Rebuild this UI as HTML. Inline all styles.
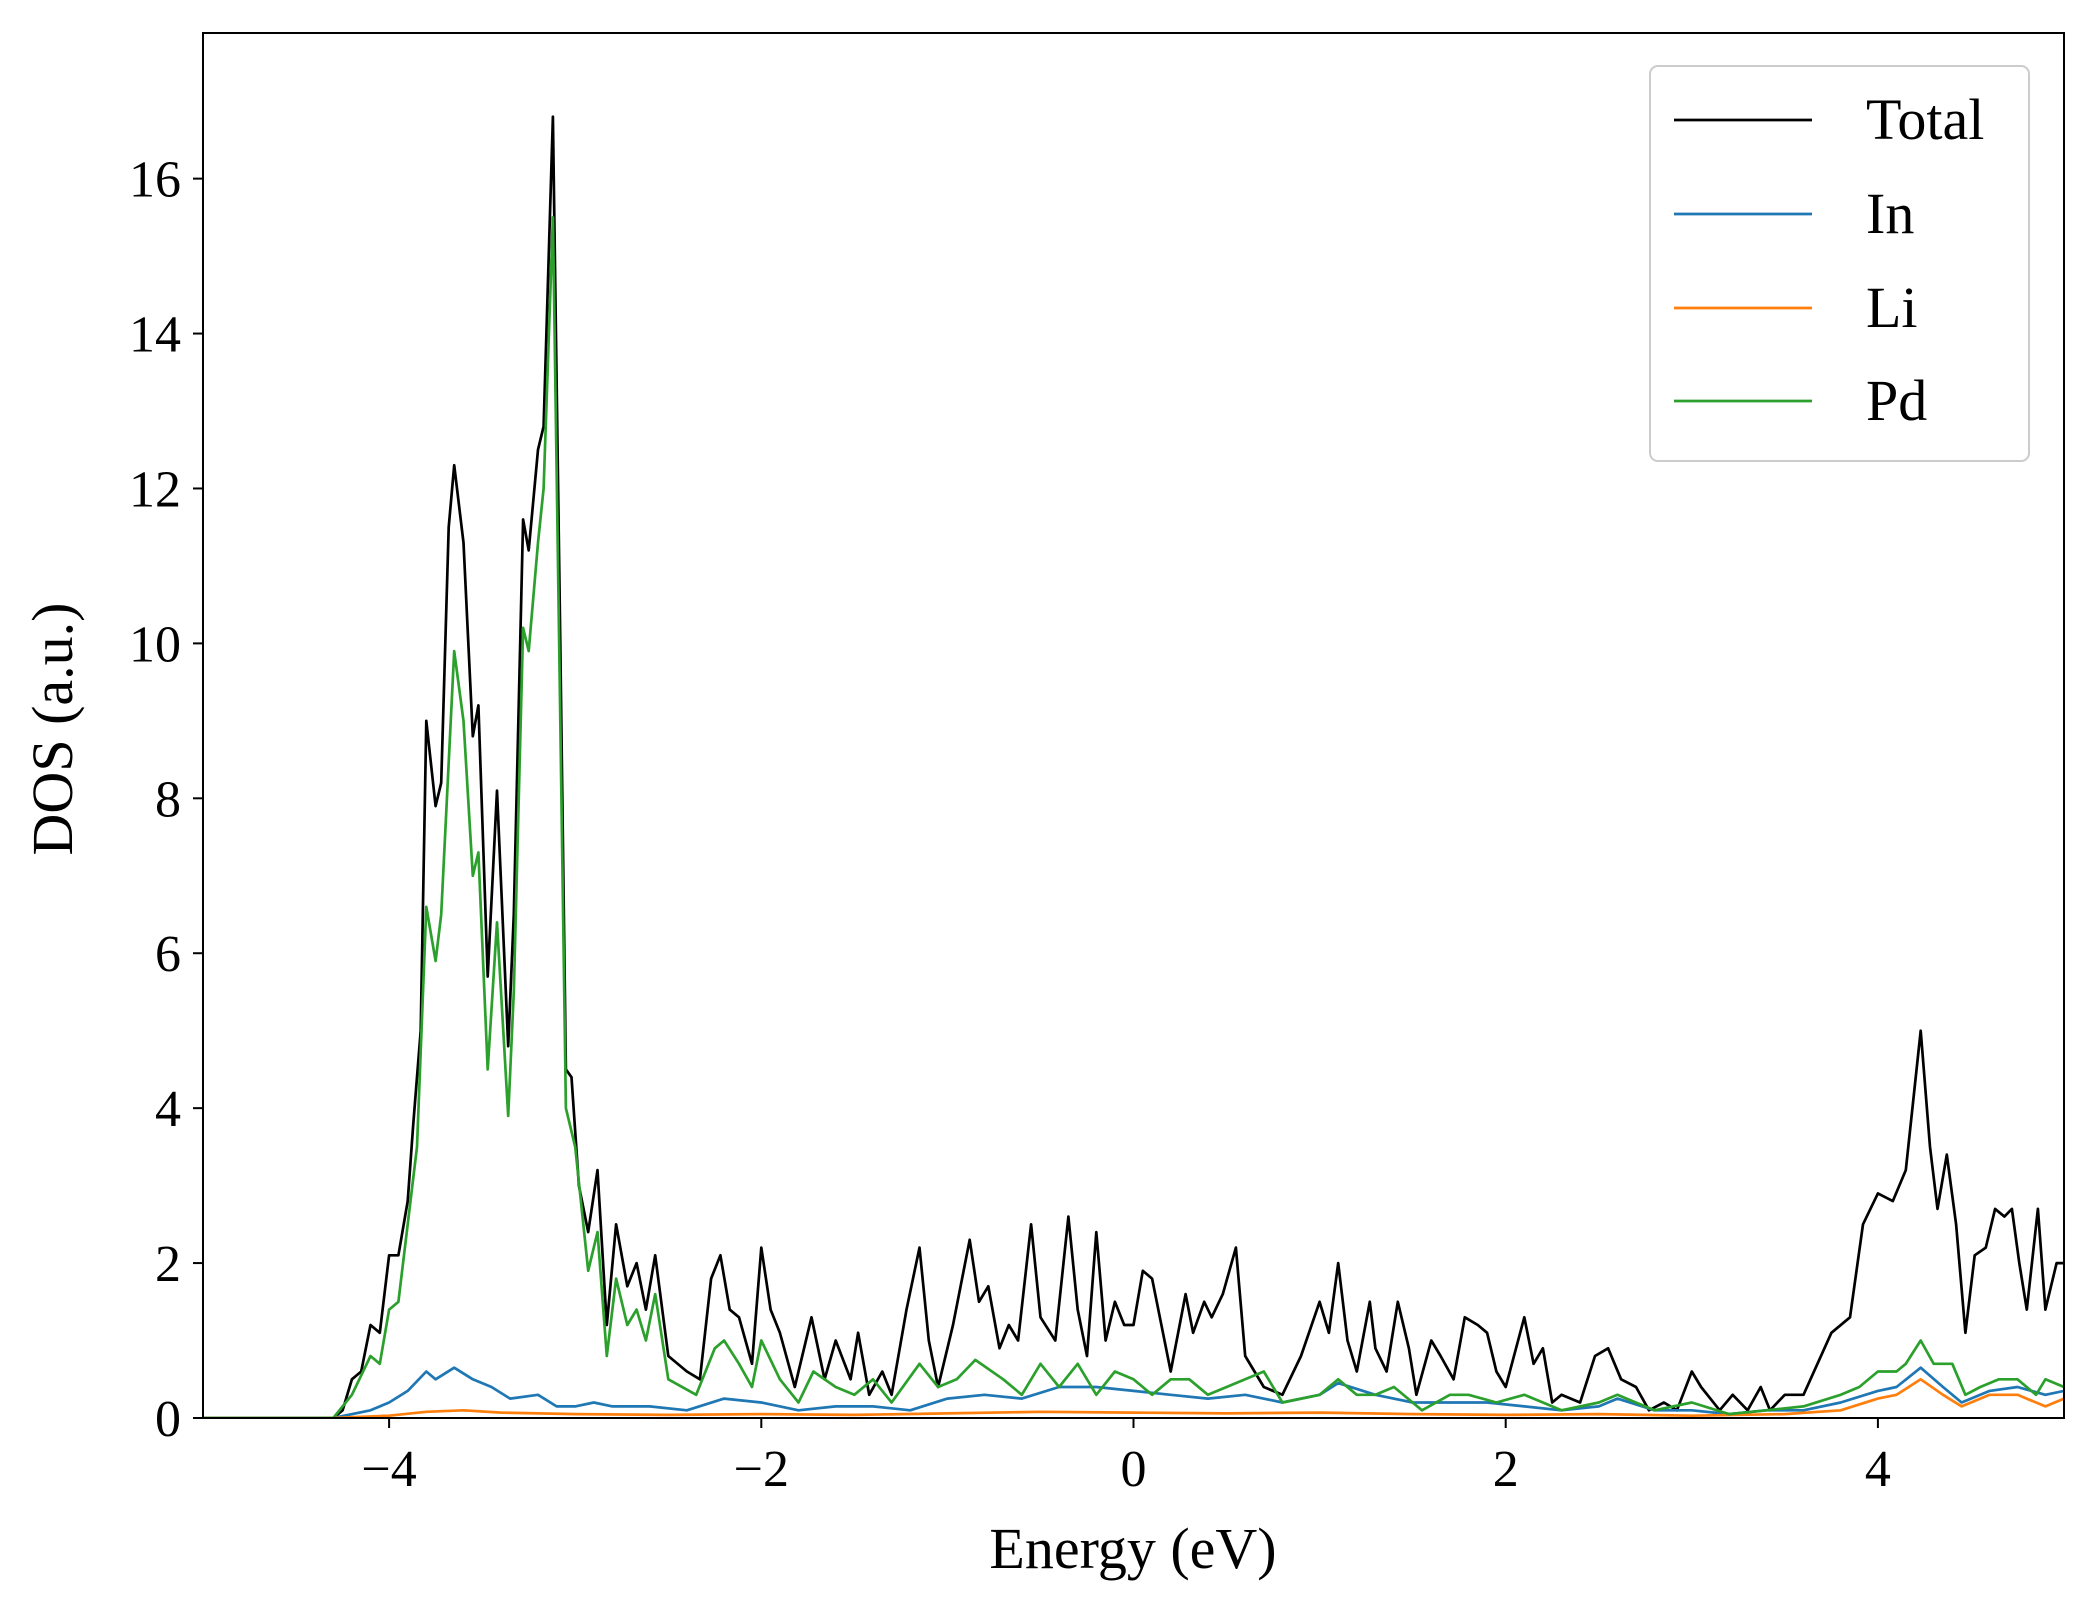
<!DOCTYPE html>
<html><head><meta charset="utf-8"><style>
html,body{margin:0;padding:0;background:#fff;}
svg text{font-family:"Liberation Serif","DejaVu Serif",serif;fill:#000;}
</style></head><body>
<svg id="chart" width="2097" height="1617" viewBox="0 0 2097 1617" xmlns="http://www.w3.org/2000/svg">
<rect width="2097" height="1617" fill="#fff"/>
<defs><clipPath id="clip"><rect x="203" y="33" width="1861" height="1385"/></clipPath></defs>
<g id="plot" clip-path="url(#clip)"></g>
<rect x="203" y="33" width="1861" height="1385" fill="none" stroke="#000" stroke-width="2"/>
<g id="xticks"></g>
<g id="yticks"></g>
<text x="1133" y="1568" font-size="58" text-anchor="middle">Energy (eV)</text>
<text transform="translate(72,729) rotate(-90)" font-size="58" text-anchor="middle">DOS (a.u.)</text>
<g>
<rect x="1650" y="66" width="379" height="395" rx="8" fill="#fff" fill-opacity="0.8" stroke="#ccc" stroke-width="2"/>
<g><line x1="1674" x2="1812" y1="120" y2="120" stroke="#000" stroke-width="2.7"/><text x="1866" y="139" font-size="58">Total</text></g>
<g><line x1="1674" x2="1812" y1="214" y2="214" stroke="#1f77b4" stroke-width="2.7"/><text x="1866" y="233" font-size="58">In</text></g>
<g><line x1="1674" x2="1812" y1="308" y2="308" stroke="#ff7f0e" stroke-width="2.7"/><text x="1866" y="327" font-size="58">Li</text></g>
<g><line x1="1674" x2="1812" y1="401" y2="401" stroke="#2ca02c" stroke-width="2.7"/><text x="1866" y="420" font-size="58">Pd</text></g>
</g>
</svg>
<script>
const xTicks=[-4,-2,0,2,4];
const xTickLabels=["\u22124","\u22122","0","2","4"];
const yTicks=[0,2,4,6,8,10,12,14,16];
const yTickLabels=["0","2","4","6","8","10","12","14","16"];
const totalE=[-5,-4.3,-4.25,-4.2,-4.15,-4.1,-4.05,-4.0,-3.95,-3.9,-3.87,-3.83,-3.8,-3.75,-3.72,-3.68,-3.65,-3.6,-3.55,-3.52,-3.47,-3.42,-3.36,-3.33,-3.28,-3.25,-3.2,-3.17,-3.12,-3.08,-3.05,-3.02,-2.98,-2.93,-2.88,-2.83,-2.78,-2.72,-2.67,-2.62,-2.57,-2.5,-2.4,-2.33,-2.27,-2.22,-2.17,-2.12,-2.05,-2.0,-1.95,-1.9,-1.82,-1.73,-1.66,-1.6,-1.52,-1.48,-1.42,-1.35,-1.3,-1.22,-1.15,-1.1,-1.05,-0.97,-0.88,-0.83,-0.78,-0.72,-0.67,-0.62,-0.55,-0.5,-0.42,-0.35,-0.3,-0.25,-0.2,-0.15,-0.1,-0.05,0.0,0.05,0.1,0.15,0.2,0.28,0.32,0.38,0.42,0.48,0.55,0.6,0.7,0.8,0.9,1.0,1.05,1.1,1.15,1.2,1.27,1.3,1.36,1.42,1.48,1.52,1.6,1.65,1.72,1.78,1.85,1.9,1.95,2.0,2.1,2.15,2.2,2.25,2.3,2.4,2.48,2.55,2.62,2.7,2.77,2.85,2.92,3.0,3.05,3.15,3.22,3.3,3.37,3.42,3.5,3.6,3.75,3.85,3.92,4.0,4.08,4.15,4.23,4.28,4.32,4.37,4.42,4.47,4.52,4.58,4.63,4.68,4.72,4.76,4.8,4.86,4.9,4.96,5];
const totalV=[0,0,0.1,0.5,0.6,1.2,1.1,2.1,2.1,2.8,3.8,5,9.0,7.9,8.2,11.5,12.3,11.3,8.8,9.2,5.7,8.1,4.8,6.5,11.6,11.2,12.5,12.8,16.8,10,4.5,4.4,3,2.4,3.2,1.2,2.5,1.7,2.0,1.4,2.1,0.8,0.6,0.5,1.8,2.1,1.4,1.3,0.7,2.2,1.4,1.1,0.4,1.3,0.5,1.0,0.5,1.1,0.3,0.6,0.3,1.4,2.2,1.0,0.4,1.2,2.3,1.5,1.7,0.9,1.2,1.0,2.5,1.3,1.0,2.6,1.4,0.8,2.4,1.0,1.5,1.2,1.2,1.9,1.8,1.2,0.6,1.6,1.1,1.5,1.3,1.6,2.2,0.8,0.4,0.3,0.8,1.5,1.1,2.0,1.0,0.6,1.5,0.9,0.6,1.5,0.9,0.3,1.0,0.8,0.5,1.3,1.2,1.1,0.6,0.4,1.3,0.7,0.9,0.2,0.3,0.2,0.8,0.9,0.5,0.4,0.1,0.2,0.1,0.6,0.4,0.1,0.3,0.1,0.4,0.1,0.3,0.3,1.1,1.3,2.5,2.9,2.8,3.2,5.0,3.5,2.7,3.4,2.5,1.1,2.1,2.2,2.7,2.6,2.7,2.0,1.4,2.7,1.4,2.0,2.0];
const pdE=[-5,-4.3,-4.2,-4.1,-4.05,-4.0,-3.95,-3.9,-3.85,-3.8,-3.75,-3.72,-3.65,-3.6,-3.55,-3.52,-3.47,-3.42,-3.36,-3.33,-3.28,-3.25,-3.2,-3.17,-3.12,-3.08,-3.05,-3.0,-2.93,-2.88,-2.83,-2.78,-2.72,-2.67,-2.62,-2.57,-2.5,-2.35,-2.25,-2.2,-2.12,-2.05,-2.0,-1.9,-1.8,-1.72,-1.6,-1.5,-1.4,-1.3,-1.15,-1.05,-0.95,-0.85,-0.7,-0.6,-0.5,-0.4,-0.3,-0.2,-0.1,0,0.1,0.2,0.3,0.4,0.5,0.6,0.7,0.8,1.0,1.1,1.2,1.3,1.4,1.55,1.7,1.8,1.95,2.1,2.2,2.3,2.5,2.6,2.8,3.0,3.2,3.4,3.6,3.8,3.9,4.0,4.1,4.15,4.23,4.3,4.4,4.47,4.55,4.65,4.75,4.85,4.9,5];
const pdV=[0,0,0.3,0.8,0.7,1.4,1.5,2.5,3.5,6.6,5.9,6.5,9.9,9.0,7.0,7.3,4.5,6.4,3.9,5.5,10.2,9.9,11.3,12,15.5,9,4.0,3.5,1.9,2.4,0.8,1.8,1.2,1.4,1.0,1.6,0.5,0.3,0.9,1.0,0.7,0.4,1.0,0.5,0.2,0.6,0.4,0.3,0.5,0.2,0.7,0.4,0.5,0.75,0.5,0.3,0.7,0.4,0.7,0.3,0.6,0.5,0.3,0.5,0.5,0.3,0.4,0.5,0.6,0.2,0.3,0.5,0.3,0.3,0.4,0.1,0.3,0.3,0.2,0.3,0.2,0.1,0.2,0.3,0.1,0.2,0.05,0.1,0.15,0.3,0.4,0.6,0.6,0.7,1.0,0.7,0.7,0.3,0.4,0.5,0.5,0.3,0.5,0.4];
const inE=[-5,-4.3,-4.1,-4.0,-3.9,-3.8,-3.75,-3.65,-3.55,-3.45,-3.35,-3.2,-3.1,-3.0,-2.9,-2.8,-2.6,-2.4,-2.2,-2.0,-1.8,-1.6,-1.4,-1.2,-1.0,-0.8,-0.6,-0.4,-0.2,0,0.2,0.4,0.6,0.8,1.0,1.1,1.3,1.5,1.7,1.9,2.1,2.3,2.5,2.6,2.8,3.0,3.2,3.4,3.6,3.8,4.0,4.1,4.23,4.35,4.45,4.6,4.75,4.9,5];
const inV=[0,0,0.1,0.2,0.35,0.6,0.5,0.65,0.5,0.4,0.25,0.3,0.15,0.15,0.2,0.15,0.15,0.1,0.25,0.2,0.1,0.15,0.15,0.1,0.25,0.3,0.25,0.4,0.4,0.35,0.3,0.25,0.3,0.2,0.3,0.45,0.3,0.2,0.2,0.2,0.15,0.1,0.15,0.25,0.1,0.1,0.05,0.1,0.1,0.2,0.35,0.4,0.65,0.4,0.2,0.35,0.4,0.3,0.35];
const liE=[-5,-4.3,-4.0,-3.8,-3.6,-3.4,-3.0,-2.5,-2.0,-1.5,-1.0,-0.5,0,0.5,1.0,1.5,2.0,2.5,3.0,3.5,3.8,4.0,4.1,4.23,4.35,4.45,4.6,4.75,4.9,5];
const liV=[0,0,0.03,0.08,0.1,0.07,0.05,0.04,0.05,0.04,0.06,0.08,0.07,0.06,0.07,0.05,0.04,0.05,0.03,0.05,0.1,0.25,0.3,0.5,0.3,0.15,0.3,0.3,0.15,0.25];

const X0=203,X1=2064,Y0=1418,Y1=33,xmin=-5,xmax=5,ymin=0,ymax=17.88;
function sx(v){return X0+(v-xmin)/(xmax-xmin)*(X1-X0);}
function sy(v){return Y0-(v-ymin)/(ymax-ymin)*(Y0-Y1);}
const NS="http://www.w3.org/2000/svg";
const plot=document.getElementById('plot');
function drawLine(E,V,color,name){
  const p=document.createElementNS(NS,'path');
  let d='';
  for(let i=0;i<E.length;i++){d+=(i?'L':'M')+sx(E[i]).toFixed(1)+','+sy(V[i]).toFixed(1);}
  p.setAttribute('d',d);
  p.setAttribute('fill','none');
  p.setAttribute('stroke',color);
  p.setAttribute('stroke-width','2.7');
  p.setAttribute('stroke-linejoin','round');
  
  
  plot.appendChild(p);
}
drawLine(totalE,totalV,'#000','series-total');
drawLine(inE,inV,'#1f77b4','series-in');
drawLine(liE,liV,'#ff7f0e','series-li');
drawLine(pdE,pdV,'#2ca02c','series-pd');
const xg=document.getElementById('xticks');
xTicks.forEach((t,i)=>{
  const l=document.createElementNS(NS,'line');
  l.setAttribute('x1',sx(t));l.setAttribute('x2',sx(t));
  l.setAttribute('y1',Y0);l.setAttribute('y2',Y0+10);
  l.setAttribute('stroke','#000');l.setAttribute('stroke-width','2');
  
  
  xg.appendChild(l);
  const tx=document.createElementNS(NS,'text');
  tx.setAttribute('x',sx(t));tx.setAttribute('y',Y0+68);
  tx.setAttribute('font-size','52');tx.setAttribute('text-anchor','middle');
  tx.textContent=xTickLabels[i];
  
  
  xg.appendChild(tx);
});
const yg=document.getElementById('yticks');
yTicks.forEach((t,i)=>{
  const l=document.createElementNS(NS,'line');
  l.setAttribute('x1',X0-10);l.setAttribute('x2',X0);
  l.setAttribute('y1',sy(t));l.setAttribute('y2',sy(t));
  l.setAttribute('stroke','#000');l.setAttribute('stroke-width','2');
  
  
  yg.appendChild(l);
  const tx=document.createElementNS(NS,'text');
  tx.setAttribute('x',X0-22);tx.setAttribute('y',sy(t)+18);
  tx.setAttribute('font-size','52');tx.setAttribute('text-anchor','end');
  tx.textContent=yTickLabels[i];
  
  
  yg.appendChild(tx);
});
</script>
</body></html>
